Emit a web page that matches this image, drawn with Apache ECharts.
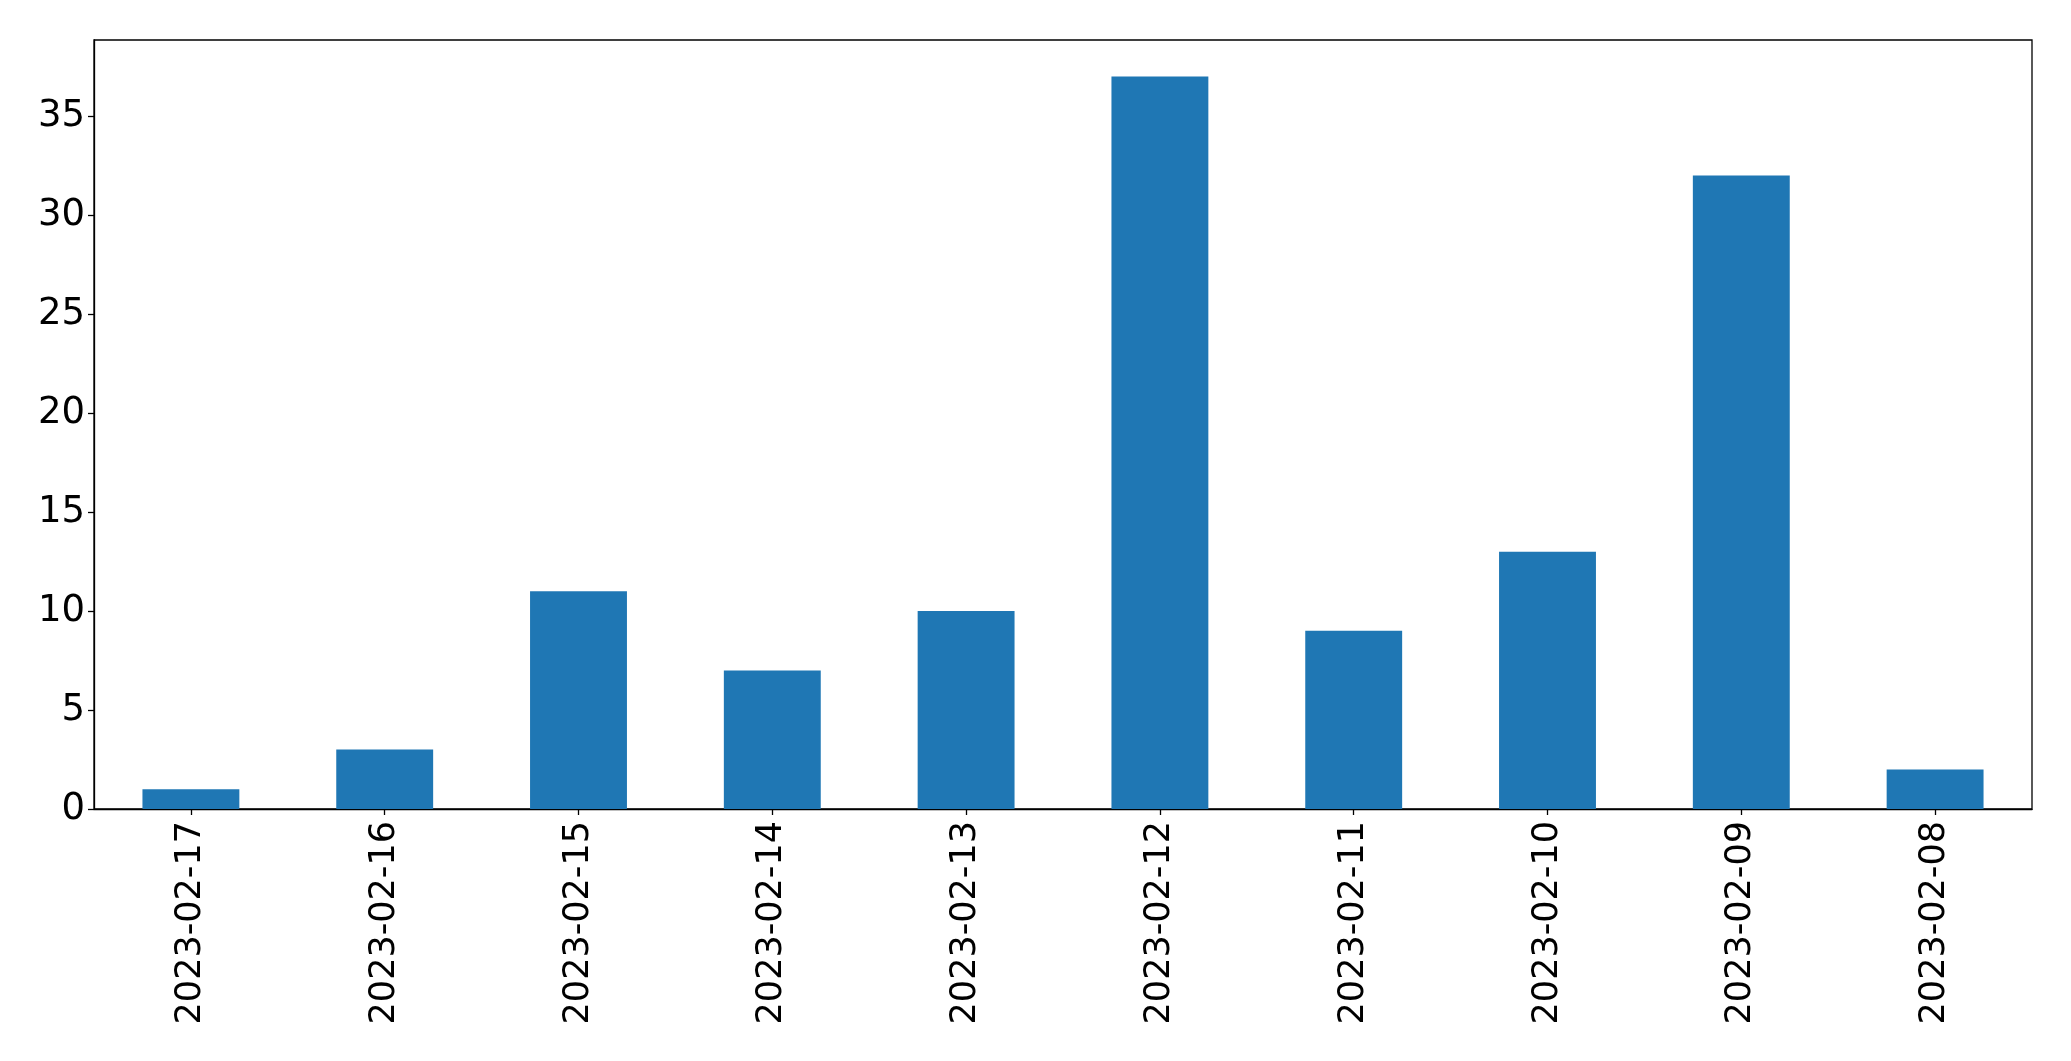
<!DOCTYPE html>
<html>
<head>
<meta charset="utf-8">
<script src="https://cdn.jsdelivr.net/npm/echarts@6/dist/echarts.min.js"></script>
<style>html,body{margin:0;padding:0;background:#fff}#c{width:2071px;height:1061px}</style>
</head>
<body>
<div id="c"></div>
<script>
const categories = ['2023-02-17','2023-02-16','2023-02-15','2023-02-14','2023-02-13','2023-02-12','2023-02-11','2023-02-10','2023-02-09','2023-02-08'];
const values = [1, 3, 11, 7, 10, 37, 9, 13, 32, 2];
const yTicks = [0, 5, 10, 15, 20, 25, 30, 35];

const chart = echarts.init(document.getElementById('c'), null, {renderer: 'canvas'});
const font = 'DejaVu Sans';
chart.setOption({
  animation: false,
  backgroundColor: '#ffffff',
  grid: {left: 94, right: 39, top: 40, bottom: 252, show: true, borderColor: '#000', borderWidth: 1.3, backgroundColor: 'transparent'},
  xAxis: {
    type: 'category',
    data: categories,
    axisLine: {show: true, lineStyle: {color: '#000', width: 1.3}},
    axisTick: {show: true, alignWithLabel: true, length: 6, lineStyle: {color: '#000', width: 1.3}},
    axisLabel: {rotate: 90, color: '#000', fontFamily: font, fontSize: 35, margin: 12, interval: 0},
    splitLine: {show: false}
  },
  yAxis: {
    type: 'value',
    min: 0,
    max: 38.85,
    interval: 5,
    axisLine: {show: true, lineStyle: {color: '#000', width: 1.3}},
    axisTick: {show: true, length: 6, customValues: yTicks, lineStyle: {color: '#000', width: 1.3}},
    axisLabel: {color: '#000', fontFamily: font, fontSize: 37, margin: 9, customValues: yTicks},
    splitLine: {show: false}
  },
  series: [{
    type: 'bar',
    data: values,
    barWidth: '50%',
    itemStyle: {color: '#1f77b4'}
  }]
});
</script>
</body>
</html>
